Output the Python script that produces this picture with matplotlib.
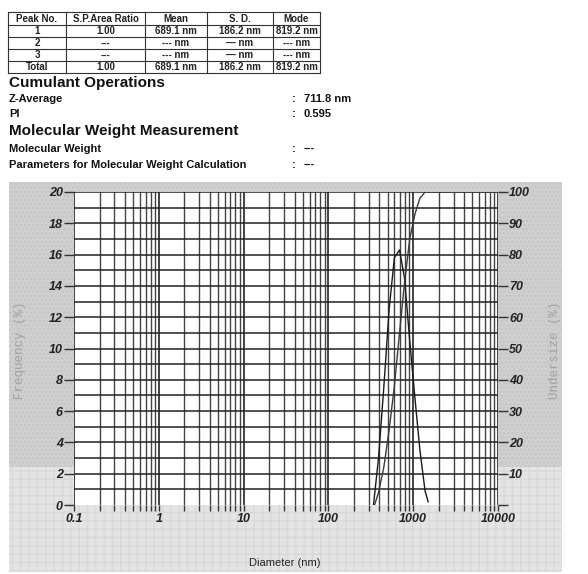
import numpy as np
import matplotlib.pyplot as plt
from matplotlib.patches import Rectangle
from matplotlib.ticker import FixedLocator, NullFormatter

plt.rcParams['font.family'] = ['Liberation Sans', 'DejaVu Sans']

# peak table
table_header = ["Peak No.", "S.P.Area Ratio", "Mean", "S. D.", "Mode"]
table_rows = [
    ["1", "1.00", "689.1 nm", "186.2 nm", "819.2 nm"],
    ["2", "---", "--- nm", "\u2014 nm", "--- nm"],
    ["3", "---", "--- nm", "\u2014 nm", "--- nm"],
    ["Total", "1.00", "689.1 nm", "186.2 nm", "819.2 nm"],
]
z_average = "711.8 nm"
pi_value = "0.595"
mol_weight = "---"
mol_params = "---"

# size distribution
freq_diam = [340, 390, 450, 520, 600, 690, 790, 910, 1050, 1200, 1380, 1500]
freq_pct = [0.0, 3.0, 7.5, 12.5, 15.8, 16.3, 14.5, 10.5, 6.8, 3.5, 0.9, 0.2]
under_diam = [350, 390, 450, 520, 600, 690, 790, 910, 1050, 1200, 1380, 1500, 10000]
under_pct = [0, 4, 12, 24, 38, 55, 71, 85, 93, 98, 100, 100, 100]

W, H = 588, 574
fig = plt.figure(figsize=(W / 100, H / 100), dpi=100)

# pixel-space layer for the report text, table and the grey frame
bg = fig.add_axes([0, 0, 1, 1], zorder=0)
bg.set_xlim(0, W)
bg.set_ylim(H, 0)
bg.axis("off")

bg.add_patch(Rectangle((9, 182), 553, 285, facecolor="#cfcfcf",
                       edgecolor="#c4c4c4", hatch="....", linewidth=0))
bg.add_patch(Rectangle((9, 467), 553, 105, facecolor="#e4e4e4",
                       edgecolor="#d9d9d9", hatch="++", linewidth=0))

col_edges = [8, 66, 145, 207, 273, 320]
row_edges = [12, 24.5, 37, 49, 61, 73]
for x in col_edges:
    bg.plot([x, x], [row_edges[0], row_edges[-1]], color="#333333", lw=0.8)
for y in row_edges:
    bg.plot([col_edges[0], col_edges[-1]], [y, y], color="#333333", lw=0.8)
for r, row in enumerate([table_header] + table_rows):
    yc = (row_edges[r] + row_edges[r + 1]) / 2
    for c, txt in enumerate(row):
        xc = (col_edges[c] + col_edges[c + 1]) / 2
        bg.text(xc, yc + 0.5, txt, ha="center", va="center", fontsize=7,
                fontweight="bold", color="#222222")

bg.text(9, 83, "Cumulant Operations", fontsize=11, fontweight="bold",
        va="center", color="#111111")
bg.text(9, 131, "Molecular Weight Measurement", fontsize=11, fontweight="bold",
        va="center", color="#111111")
info = [
    (99, "Z-Average", z_average),
    (114, "PI", pi_value),
    (149, "Molecular Weight", mol_weight),
    (165, "Parameters for Molecular Weight Calculation", mol_params),
]
for y, name, val in info:
    bg.text(9, y, name, fontsize=8, fontweight="bold", va="center", color="#111111")
    bg.text(292, y, ":", fontsize=8, fontweight="bold", va="center", color="#111111")
    bg.text(304, y, val, fontsize=8, fontweight="bold", va="center", color="#111111")

# distribution plot
ax = fig.add_axes([74 / W, 1 - 505 / H, 424 / W, 313 / H], zorder=2)
ax.set_facecolor("white")
ax.set_xscale("log")
ax.set_xlim(0.1, 10000)
ax.set_ylim(0, 20)
for s in ax.spines.values():
    s.set_visible(False)

minor_x = [m * 10.0 ** e for e in range(-1, 4) for m in range(2, 10)]
ax.xaxis.set_major_locator(FixedLocator([0.1, 1, 10, 100, 1000, 10000]))
ax.xaxis.set_minor_locator(FixedLocator(minor_x))
ax.xaxis.set_minor_formatter(NullFormatter())
ax.set_xticklabels(["0.1", "1", "10", "100", "1000", "10000"])
ax.yaxis.set_major_locator(FixedLocator(np.arange(0, 21, 2)))
ax.yaxis.set_minor_locator(FixedLocator(np.arange(1, 20, 2)))

ax.grid(True, which="major", axis="x", color="#111111", lw=1.1)
ax.grid(True, which="minor", axis="x", color="#444444", lw=1.0)
ax.grid(True, which="both", axis="y", color="#222222", lw=1.1)
ax.yaxis.get_gridlines()[0].set_visible(False)

ax.tick_params(axis="x", which="both", direction="out", length=4, width=1,
               color="#333333", pad=2)
ax.tick_params(axis="y", which="major", direction="out", length=7, width=1,
               color="#333333", pad=1)
ax.tick_params(axis="y", which="minor", length=0)
for lbl in ax.get_xticklabels() + ax.get_yticklabels():
    lbl.set_fontstyle("italic")
    lbl.set_fontweight("bold")
    lbl.set_fontsize(9)
    lbl.set_color("#222222")

ax.plot(freq_diam, freq_pct, color="#1a1a1a", lw=1.0, zorder=3)

ax2 = ax.twinx()
ax2.set_ylim(0, 100)
for s in ax2.spines.values():
    s.set_visible(False)
ax2.yaxis.set_major_locator(FixedLocator(np.arange(0, 101, 10)))
ax2.set_yticklabels([""] + [str(v) for v in range(10, 101, 10)])
ax2.tick_params(axis="y", direction="out", length=7, width=1,
                color="#333333", pad=1)
for lbl in ax2.get_yticklabels():
    lbl.set_fontstyle("italic")
    lbl.set_fontweight("bold")
    lbl.set_fontsize(9)
    lbl.set_color("#222222")
ax2.plot(under_diam, under_pct, color="#3a3a3a", lw=1.0, zorder=3)

bg.text(20, 350, "Frequency (%)", rotation=90, ha="center", va="center",
        family="Liberation Mono", fontsize=9, color="#a0a0a0")
bg.text(555, 350, "Undersize (%)", rotation=90, ha="center", va="center",
        family="Liberation Mono", fontsize=9, color="#a0a0a0")
bg.text(285, 563, "Diameter (nm)", ha="center", va="center", fontsize=8,
        color="#222222")

fig.savefig("out.png", dpi=100)
